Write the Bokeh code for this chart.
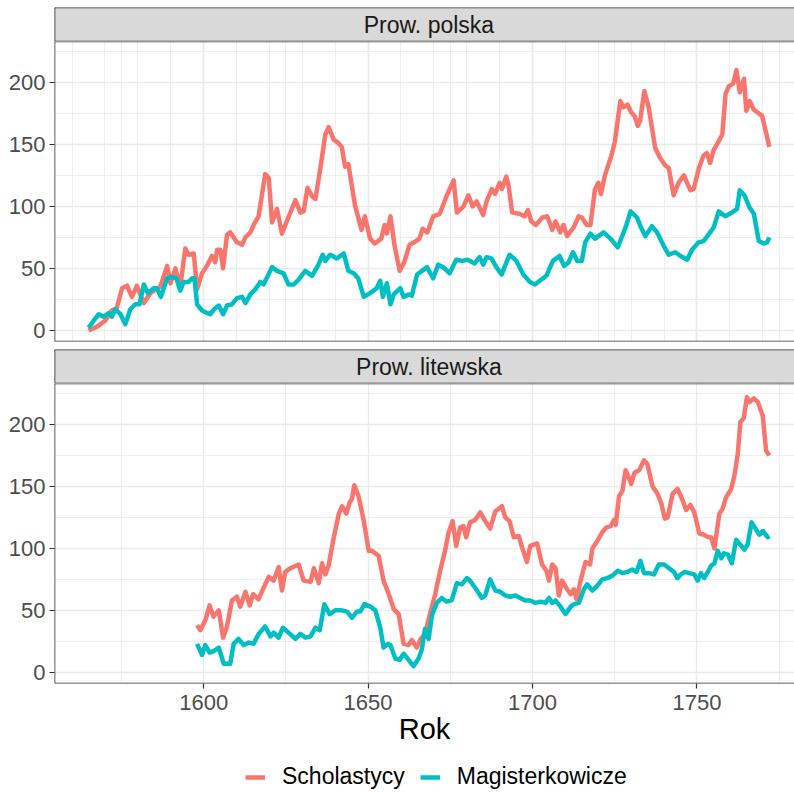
from bokeh.plotting import figure
from bokeh.layouts import column
from bokeh.models import Legend, LegendItem, SingleIntervalTicker, Range1d, Grid, Span
from bokeh.embed import file_html
from bokeh.resources import INLINE
from bokeh.core.properties import value

# ---------------- data ----------------
panel_labels = ["Prow. polska", "Prow. litewska"]
series_labels = ["Scholastycy", "Magisterkowicze"]
x_ticks = [1600, 1650, 1700, 1750]
y_ticks = [0, 50, 100, 150, 200]

pl_sch_year = [1565.0, 1567.6, 1570.1, 1572.1, 1573.6, 1575.2, 1576.7, 1578.2, 1579.7, 1581.8,
               1583.8, 1586.8, 1588.9, 1589.9, 1591.4, 1592.9, 1594.4, 1595.4, 1597.0, 1598.0,
               1599.5, 1601.0, 1602.5, 1603.5, 1604.1, 1605.1, 1605.9, 1607.1, 1608.1, 1610.1,
               1611.7, 1612.7, 1614.2, 1615.2, 1616.7, 1618.7, 1619.8, 1620.8, 1622.3, 1623.8,
               1625.3, 1627.9, 1629.4, 1630.4, 1631.6, 1633.0, 1634.0, 1635.5, 1637.0, 1638.0,
               1639.5, 1641.0, 1642.0, 1643.0, 1644.0, 1646.0, 1648.0, 1649.0, 1650.6, 1652.0,
               1654.0, 1655.0, 1655.7, 1656.8, 1658.0, 1659.6, 1661.0, 1662.6, 1664.0, 1665.6,
               1666.6, 1668.0, 1669.8, 1671.8, 1673.8, 1676.0, 1677.0, 1679.0, 1680.5, 1681.8,
               1683.0, 1685.0, 1686.0, 1687.6, 1688.6, 1690.0, 1690.7, 1692.0, 1692.7, 1693.8,
               1696.0, 1697.6, 1698.6, 1699.6, 1701.0, 1703.0, 1704.5, 1706.0, 1707.0, 1708.4,
               1709.4, 1710.5, 1712.5, 1714.0, 1715.0, 1716.5, 1717.6, 1719.0, 1720.0, 1720.8,
               1722.0, 1724.0, 1725.0, 1726.7, 1727.6, 1728.9, 1730.0, 1731.0, 1732.0, 1732.7,
               1734.0, 1735.3, 1737.3, 1738.8, 1740.4, 1741.4, 1742.9, 1744.4, 1746.0, 1748.0,
               1749.0, 1750.6, 1752.0, 1753.0, 1754.0, 1755.0, 1756.7, 1757.7, 1758.7, 1759.7,
               1761.0, 1762.0, 1763.0, 1764.3, 1765.0, 1766.0, 1767.3, 1769.8, 1772.0]
pl_sch_val = [0, 3, 8, 16, 18, 34, 36, 27, 36, 22,
              30, 35, 52, 38, 50, 35, 66, 61, 62, 33,
              46, 52, 60, 55, 65, 65, 50, 77, 79, 71,
              69, 75, 79, 85, 92, 126, 123, 87, 98, 78,
              88, 105, 95, 96, 115, 108, 106, 131, 158, 164,
              154, 151, 148, 132, 134, 101, 81, 92, 74, 70,
              74, 85, 78, 92, 69, 48, 55, 69, 71, 74,
              82, 79, 92, 94, 108, 121, 95, 100, 109, 100,
              104, 93, 104, 114, 110, 119, 114, 124, 117, 95,
              94, 92, 97, 88, 85, 91, 92, 81, 88, 79,
              85, 76, 83, 92, 91, 85, 85, 114, 119, 110,
              125, 141, 152, 185, 180, 182, 176, 173, 165, 169,
              193, 180, 147, 139, 133, 131, 109, 119, 125, 113,
              114, 131, 141, 143, 135, 145, 153, 158, 191, 197,
              199, 210, 192, 203, 177, 185, 178, 173, 148]

pl_mag_year = [1565.0, 1566.6, 1568.1, 1569.6, 1571.1, 1572.1, 1573.1, 1574.7, 1576.2, 1577.7,
               1579.2, 1580.5, 1581.8, 1583.0, 1584.8, 1585.8, 1587.0, 1588.9, 1590.4, 1591.7,
               1592.9, 1593.9, 1595.4, 1596.5, 1597.2, 1598.0, 1599.5, 1601.0, 1602.0, 1603.2,
               1604.6, 1605.9, 1607.1, 1608.6, 1610.1, 1611.7, 1612.7, 1614.2, 1615.7, 1617.2,
               1618.2, 1620.8, 1622.3, 1624.3, 1625.8, 1627.4, 1628.9, 1630.9, 1633.0, 1634.9,
               1636.2, 1637.0, 1638.5, 1640.5, 1642.6, 1644.0, 1645.6, 1647.0, 1648.7, 1650.6,
               1652.6, 1653.7, 1654.5, 1655.7, 1656.8, 1657.8, 1659.8, 1660.8, 1662.3, 1663.3,
               1664.9, 1666.4, 1667.9, 1669.8, 1671.3, 1672.8, 1674.8, 1676.8, 1678.8, 1680.3,
               1682.4, 1683.9, 1685.0, 1686.0, 1687.5, 1689.0, 1690.6, 1693.0, 1695.1, 1697.2,
               1699.2, 1700.7, 1704.2, 1706.2, 1708.2, 1709.6, 1711.0, 1712.3, 1713.6, 1715.0,
               1716.0, 1717.6, 1719.0, 1721.6, 1723.7, 1725.9, 1728.3, 1729.8, 1731.8, 1732.8,
               1734.3, 1736.3, 1737.9, 1739.9, 1741.4, 1743.4, 1745.0, 1747.0, 1748.5, 1750.5,
               1752.0, 1754.0, 1755.1, 1756.6, 1758.6, 1760.6, 1762.2, 1763.0, 1764.4, 1766.0,
               1767.3, 1768.8, 1770.3, 1771.3, 1772.0]
pl_mag_val = [2, 8, 13, 11, 14, 11, 17, 13, 5, 17,
              21, 21, 37, 30, 34, 34, 27, 42, 43, 42,
              32, 39, 39, 42, 42, 21, 16, 14, 13, 17,
              20, 13, 20, 21, 26, 27, 22, 29, 33, 39,
              37, 51, 48, 46, 37, 37, 41, 48, 44, 53,
              61, 56, 61, 58, 62, 48, 46, 42, 27, 30,
              34, 40, 27, 38, 21, 29, 34, 27, 29, 28,
              45, 48, 51, 42, 53, 51, 46, 57, 56, 57,
              54, 59, 53, 59, 58, 51, 45, 61, 56, 45,
              39, 37, 44, 56, 60, 52, 55, 63, 56, 56,
              71, 78, 74, 79, 74, 67, 83, 96, 91, 84,
              76, 84, 79, 68, 61, 63, 60, 57, 65, 71,
              72, 79, 83, 96, 92, 95, 98, 113, 109, 99,
              94, 72, 70, 71, 75]

lt_sch_year = [1598.0, 1599.0, 1600.5, 1601.8, 1603.0, 1604.6, 1605.9, 1607.1, 1608.6, 1610.1,
               1611.1, 1612.7, 1614.0, 1615.0, 1616.7, 1618.2, 1619.8, 1621.3, 1622.8, 1623.8,
               1624.8, 1626.4, 1628.9, 1630.4, 1632.5, 1633.5, 1635.0, 1636.0, 1637.0, 1638.0,
               1639.5, 1641.1, 1642.1, 1643.4, 1644.4, 1645.1, 1645.8, 1647.1, 1648.7, 1650.2,
               1651.2, 1653.2, 1654.7, 1656.3, 1657.8, 1659.3, 1660.8, 1662.3, 1663.3, 1664.8,
               1666.0, 1667.3, 1668.8, 1670.4, 1671.9, 1673.4, 1674.4, 1675.7, 1676.8, 1678.0,
               1679.0, 1679.8, 1681.0, 1682.6, 1684.1, 1685.6, 1687.1, 1688.7, 1690.7, 1691.7,
               1693.0, 1694.3, 1695.8, 1696.8, 1698.3, 1699.3, 1701.4, 1702.9, 1704.2, 1705.0,
               1706.0, 1707.0, 1708.0, 1709.0, 1710.5, 1711.6, 1712.6, 1713.4, 1714.6, 1716.1,
               1717.5, 1718.2, 1719.7, 1721.2, 1722.5, 1723.8, 1724.8, 1725.3, 1726.3, 1727.3,
               1728.3, 1729.3, 1730.0, 1731.0, 1732.4, 1733.9, 1734.9, 1736.5, 1738.0, 1739.2,
               1740.2, 1741.1, 1742.6, 1744.1, 1745.3, 1746.7, 1748.0, 1749.2, 1750.7, 1752.2,
               1753.3, 1754.3, 1755.3, 1756.8, 1757.8, 1758.8, 1760.4, 1761.4, 1762.4, 1763.2,
               1764.2, 1765.2, 1766.0, 1767.3, 1768.5, 1770.0, 1771.0, 1772.0]
lt_sch_val = [38, 34, 42, 54, 45, 50, 28, 37, 58, 61,
              53, 65, 54, 63, 59, 68, 77, 74, 85, 66,
              81, 84, 87, 74, 73, 84, 72, 88, 79, 86,
              108, 128, 134, 128, 137, 140, 151, 142, 122, 98,
              98, 94, 74, 63, 51, 47, 23, 22, 26, 20,
              27, 31, 47, 63, 82, 98, 112, 122, 102, 117,
              118, 109, 121, 123, 129, 122, 116, 130, 134, 125,
              122, 109, 110, 101, 89, 102, 104, 87, 82, 74,
              87, 84, 62, 74, 67, 63, 67, 59, 74, 89,
              87, 100, 106, 113, 117, 118, 123, 119, 142, 146,
              163, 157, 152, 161, 163, 171, 168, 150, 144, 136,
              124, 125, 144, 148, 141, 131, 135, 129, 112, 111,
              109, 109, 100, 128, 132, 141, 148, 159, 176, 202,
              205, 222, 218, 221, 218, 207, 179, 175]

lt_mag_year = [1598.0, 1599.5, 1600.5, 1601.8, 1603.0, 1604.6, 1606.1, 1608.1, 1609.1, 1610.6,
               1612.2, 1613.7, 1615.2, 1616.7, 1618.7, 1620.3, 1621.3, 1622.8, 1624.1, 1625.8,
               1627.9, 1629.4, 1631.0, 1632.5, 1634.0, 1635.3, 1636.7, 1638.3, 1640.0, 1642.0,
               1643.6, 1645.1, 1646.6, 1647.6, 1648.9, 1650.7, 1652.2, 1653.7, 1654.7, 1656.0,
               1656.8, 1658.3, 1659.6, 1660.8, 1662.3, 1663.8, 1665.3, 1666.3, 1667.3, 1668.4,
               1669.4, 1670.9, 1672.4, 1673.9, 1675.4, 1677.0, 1678.5, 1680.0, 1681.0, 1682.6,
               1684.6, 1685.6, 1687.1, 1688.7, 1690.2, 1691.7, 1693.2, 1694.8, 1696.3, 1697.8,
               1699.3, 1700.9, 1702.4, 1703.9, 1705.0, 1706.0, 1707.0, 1708.5, 1710.0, 1711.6,
               1712.6, 1714.1, 1715.6, 1716.6, 1718.2, 1719.7, 1721.2, 1722.7, 1724.3, 1726.0,
               1727.3, 1728.8, 1730.3, 1731.6, 1732.8, 1733.9, 1735.4, 1736.9, 1738.4, 1740.0,
               1741.5, 1743.0, 1744.0, 1745.1, 1746.3, 1747.6, 1749.2, 1750.2, 1751.2, 1752.2,
               1753.3, 1754.3, 1755.3, 1756.3, 1757.4, 1758.2, 1759.4, 1760.6, 1761.9, 1763.2,
               1764.4, 1765.4, 1766.6, 1768.0, 1769.0, 1770.0, 1771.5, 1772.0]
lt_mag_val = [23, 14, 22, 16, 17, 20, 7, 7, 23, 27,
              22, 24, 23, 31, 37, 29, 32, 28, 36, 32,
              27, 31, 28, 29, 36, 34, 55, 47, 50, 50,
              49, 44, 49, 49, 55, 53, 50, 36, 20, 23,
              22, 11, 10, 15, 10, 5, 11, 18, 35, 27,
              46, 56, 60, 57, 58, 72, 71, 76, 74, 68,
              60, 62, 75, 66, 65, 62, 61, 62, 60, 58,
              58, 56, 57, 56, 60, 56, 58, 53, 47, 53,
              55, 56, 67, 71, 66, 70, 75, 76, 78, 82,
              80, 81, 83, 81, 90, 80, 80, 79, 87, 87,
              84, 81, 76, 79, 81, 80, 79, 74, 80, 76,
              81, 86, 88, 98, 92, 96, 95, 88, 107, 103,
              99, 103, 121, 115, 111, 114, 109, 110]

# ---------------- styling ----------------
FONT = "Liberation Sans"
RED = "#F8766D"
TEAL = "#00BFC4"
BORDER = "#333333"
GRID = "#EBEBEB"
FRAME_W = 740
LEFT = 54
LW = 4.5

all_years = pl_sch_year + pl_mag_year + lt_sch_year + lt_mag_year
span = max(all_years) - min(all_years)
x_lo = min(all_years) - 0.05 * span
x_hi_full = max(all_years) + 0.05 * span
x_hi_visible = x_lo + 225.0
xr = Range1d(x_lo, x_hi_visible)
yr = Range1d(-9, 233)
strip_center = (x_lo + x_hi_full) / 2


def base_fig(frame_h, y_range, top=0, bottom=0, x_axis=None, y_axis=None):
    kw = dict(frame_width=FRAME_W, frame_height=frame_h, x_range=xr, y_range=y_range,
              output_backend="svg", toolbar_location=None,
              min_border_left=LEFT, min_border_right=0, min_border_top=top,
              min_border_bottom=bottom)
    if x_axis is None:
        kw["x_axis_location"] = None
    if y_axis is None:
        kw["y_axis_location"] = None
    f = figure(**kw)
    f.border_fill_color = "white"
    f.outline_line_color = None
    return f


def add_border(f, y_lo, y_hi):
    # panel border on left, top and bottom (the right side lies beyond the picture's edge)
    for loc, dim in ((x_lo, "height"), (y_lo, "width"), (y_hi, "width")):
        f.add_layout(Span(location=loc, dimension=dim, line_color=BORDER, line_width=1.6))


def make_strip(label, top):
    s = base_fig(34, Range1d(0, 1), top=top)
    s.background_fill_color = "#D9D9D9"
    s.grid.visible = False
    add_border(s, 0, 1)
    s.text(x=[strip_center], y=[0.5], text=[label], text_align="center",
           text_baseline="middle", text_font=value(FONT), text_font_size="23px",
           text_color="#1A1A1A")
    return s


def make_panel(show_x, bottom):
    p = base_fig(300, yr, bottom=bottom, x_axis="below" if show_x else None, y_axis="left")
    p.background_fill_color = "white"

    xt = SingleIntervalTicker(interval=50, num_minor_ticks=2)
    yt = SingleIntervalTicker(interval=50, num_minor_ticks=2)
    p.yaxis.ticker = yt
    if show_x:
        p.xaxis.ticker = xt
        p.xgrid.ticker = xt
    else:
        p.add_layout(Grid(dimension=0, ticker=xt))
    p.ygrid.ticker = yt

    for g in p.grid:
        g.grid_line_color = GRID
        g.grid_line_width = 1.4
        g.minor_grid_line_color = GRID
        g.minor_grid_line_width = 0.8

    for ax in p.axis:
        ax.axis_line_color = None
        ax.major_tick_line_color = BORDER
        ax.major_tick_line_width = 1.2
        ax.major_tick_out = 5
        ax.major_tick_in = 0
        ax.minor_tick_line_color = None
        ax.major_label_text_font = FONT
        ax.major_label_text_font_size = "22px"
        ax.major_label_text_color = "#4D4D4D"
    p.yaxis.major_label_standoff = 4
    add_border(p, yr.start, yr.end)
    return p


s1 = make_strip(panel_labels[0], 7)
p1 = make_panel(False, 8)
p1.line(pl_sch_year, pl_sch_val, line_color=RED, line_width=LW, line_join="round")
p1.line(pl_mag_year, pl_mag_val, line_color=TEAL, line_width=LW, line_join="round")

s2 = make_strip(panel_labels[1], 0)
p2 = make_panel(True, 0)
p2.line(lt_sch_year, lt_sch_val, line_color=RED, line_width=LW, line_join="round")
p2.line(lt_mag_year, lt_mag_val, line_color=TEAL, line_width=LW, line_join="round")

p2.xaxis.axis_label = "Rok"
p2.xaxis.axis_label_text_font = FONT
p2.xaxis.axis_label_text_font_size = "29px"
p2.xaxis.axis_label_text_font_style = "normal"
p2.xaxis.axis_label_text_color = "black"
p2.xaxis.axis_label_standoff = 0
p2.xaxis.major_label_standoff = 6

# legend row: a strip below the bottom panel; its two series lie above its
# visible y range, so only their legend keys are seen
lg = base_fig(46, Range1d(0, 1))
lg.background_fill_color = "white"
lg.grid.visible = False
r_sch = lg.line(lt_sch_year, lt_sch_val, line_color=RED, line_width=LW)
r_mag = lg.line(lt_mag_year, lt_mag_val, line_color=TEAL, line_width=LW)
legend = Legend(items=[LegendItem(label=series_labels[0], renderers=[r_sch]),
                       LegendItem(label=series_labels[1], renderers=[r_mag])],
                orientation="horizontal", location=(191, 3))
legend.label_text_font = FONT
legend.label_text_font_size = "23px"
legend.label_text_color = "black"
legend.border_line_color = None
legend.background_fill_alpha = 0
legend.glyph_width = 20
legend.glyph_height = 20
legend.label_height = 20
legend.label_standoff = 17
legend.spacing = 15
legend.padding = 0
legend.margin = 0
lg.add_layout(legend, "center")

layout = column(s1, p1, s2, p2, lg, spacing=0)
open("out.html", "w").write(file_html(layout, INLINE))
